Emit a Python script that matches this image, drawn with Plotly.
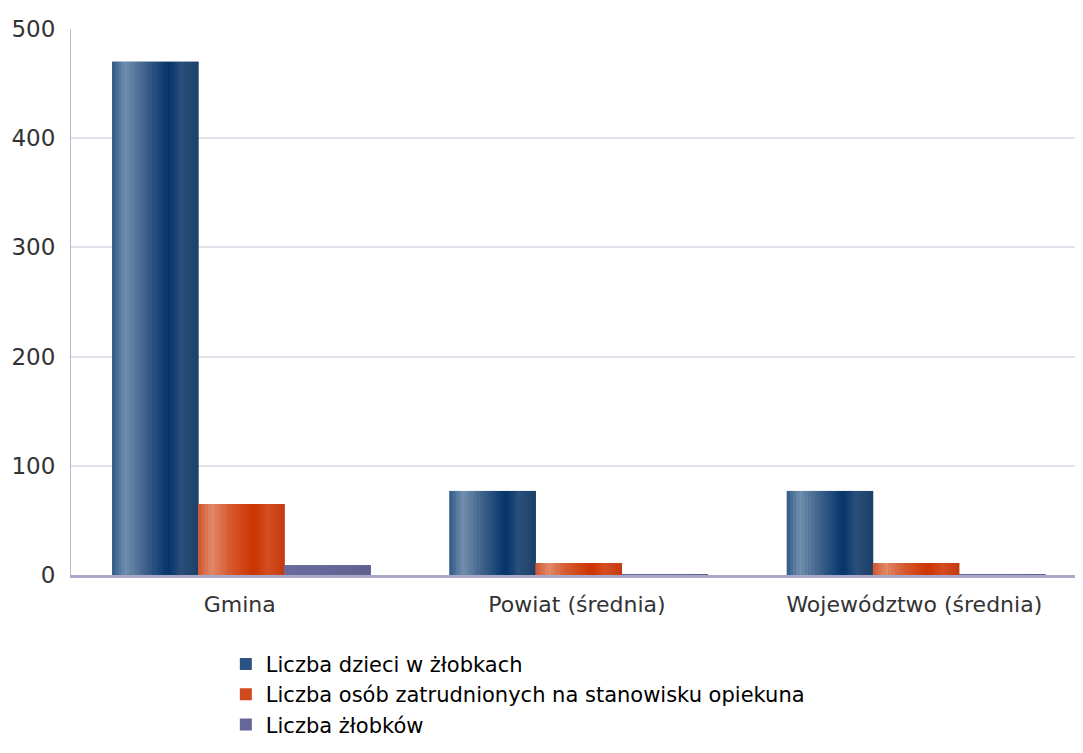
import plotly.graph_objects as go

categories = ["Gmina", "Powiat (średnia)", "Województwo (średnia)"]
series_names = [
    "Liczba dzieci w żłobkach",
    "Liczba osób zatrudnionych na stanowisku opiekuna",
    "Liczba żłobków",
]
dzieci = [470, 77, 77]
opiekunowie = [65, 11, 11]
zlobki = [9, 0.3, 0.3]
y_ticks = [0, 100, 200, 300, 400, 500]

series_values = [dzieci, opiekunowie, zlobki]
base_colors = ["#2b5282", "#d04a1e", "#66669a"]
gradient_stops = [
    [(0.0, "#2f5a87"), (0.15, "#7290b0"), (0.35, "#46698f"), (0.65, "#03336a"), (0.8, "#2a4f7a"), (1.0, "#1d4068")],
    [(0.0, "#cf5530"), (0.15, "#e28a6a"), (0.35, "#d65c32"), (0.65, "#cc3300"), (0.8, "#d44e20"), (1.0, "#c33a10")],
    [(0.0, "#6a6a9c"), (0.5, "#666698"), (1.0, "#606090")],
]

group_width = 0.766
bar_w = group_width / 3
n_stripes = 28


def hex2rgb(h):
    h = h.lstrip("#")
    return tuple(int(h[i:i + 2], 16) for i in (0, 2, 4))


def interp(stops, t):
    for (t0, c0), (t1, c1) in zip(stops[:-1], stops[1:]):
        if t0 <= t <= t1:
            f = 0 if t1 == t0 else (t - t0) / (t1 - t0)
            a, b = hex2rgb(c0), hex2rgb(c1)
            r = [round(a[k] + (b[k] - a[k]) * f) for k in range(3)]
            return "rgb(%d,%d,%d)" % tuple(r)
    return stops[-1][1]


fig = go.Figure()
for i, (name, vals) in enumerate(zip(series_names, series_values)):
    off = -group_width / 2 + i * bar_w + 0.005
    fig.add_trace(go.Bar(
        x=categories, y=vals, name=name, legendgroup=name,
        marker=dict(color=base_colors[i], line=dict(width=0)),
        offset=off, width=bar_w, hoverinfo="y+name",
    ))
    sw = bar_w / n_stripes
    for s in range(n_stripes):
        t = (s + 0.5) / n_stripes
        fig.add_trace(go.Bar(
            x=categories, y=vals, name=name, legendgroup=name, showlegend=False,
            marker=dict(color=interp(gradient_stops[i], t), line=dict(width=0)),
            offset=off + s * sw, width=sw * 1.1, hoverinfo="skip",
        ))

fig.update_layout(
    width=1075, height=737,
    margin=dict(l=63, r=0, t=21, b=170),
    paper_bgcolor="white", plot_bgcolor="white",
    barmode="overlay",
    font=dict(family="DejaVu Sans", size=21, color="#333333"),
    showlegend=True,
    legend=dict(
        x=0.153, y=-0.126, xanchor="left", yanchor="top",
        font=dict(family="DejaVu Sans", size=21, color="#000000"),
        tracegroupgap=0, itemsizing="constant",
        bgcolor="rgba(0,0,0,0)",
    ),
    xaxis=dict(
        type="category", showgrid=False, ticks="",
        showline=True, linecolor="#a8a8c8", linewidth=3,
        tickfont=dict(size=22, color="#333333"),
        ticklabelstandoff=8,
        range=[-0.5, 2.5],
    ),
    yaxis=dict(
        range=[0, 500], tickvals=y_ticks,
        showgrid=True, gridcolor="#e2e2ec", gridwidth=2,
        showline=True, linecolor="#b8bccc", linewidth=1,
        zeroline=False, ticks="",
        tickfont=dict(size=23, color="#333333"),
        ticklabelstandoff=10,
    ),
)

fig.write_html("out.html")
